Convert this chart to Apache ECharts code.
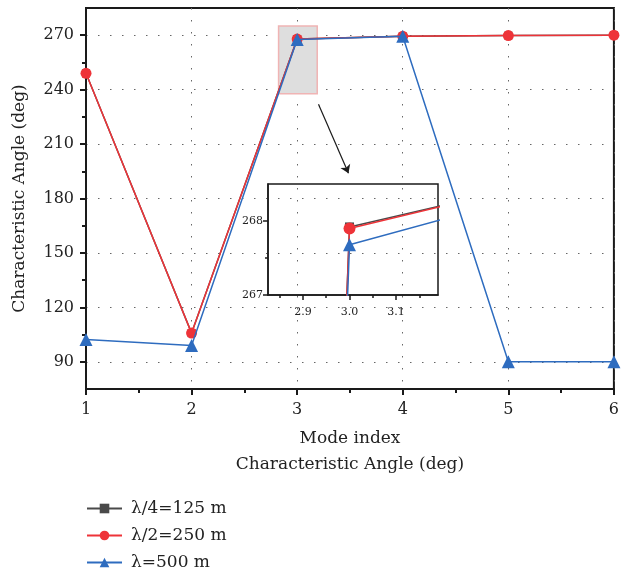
<!DOCTYPE html>
<html style="height: 100%">
<head>
<meta charset="utf-8">
<script src="https://cdn.jsdelivr.net/npm/echarts@6.0.0/dist/echarts.min.js"></script>
</head>
<body style="height: 100%; margin: 0; background: #fff">
<div id="container" style="width: 622px; height: 573px;"></div>
<script type="text/javascript">
// values
var modeIndex = [1, 2, 3, 4, 5, 6];
var quarterLambda = [249, 105.8, 267.92, 269.38, 269.8, 270];
var halfLambda = [249, 105.8, 267.9, 269.4, 269.8, 270];
var fullLambda = [102.3, 99, 267.68, 269.4, 90, 90];
var seriesNames = ['λ/4=125 m', 'λ/2=250 m', 'λ=500 m'];

var yTicks = [90, 120, 150, 180, 210, 240, 270];
var yMinorTicks = [105, 135, 165, 195, 225, 255];
var insetXTicks = [2.9, 3.0, 3.1];
var insetXMinor = [2.85, 2.95, 3.05, 3.15];
var insetYTicks = [267, 268];
var insetYMinor = [267.5];

var colors = ['#4a4a4a', '#ee3338', '#2e6cbf'];
var symbols = ['rect', 'circle', 'triangle'];
var font = 'DejaVu Serif';

function pairs(xs, ys) {
    var out = [];
    for (var i = 0; i < xs.length; i++) out.push([xs[i], ys[i]]);
    return out;
}

var dom = document.getElementById('container');
var myChart = echarts.init(dom);
var dotted = { color: '#666', width: 1, type: [1.5, 10.5] };
var black = '#1a1a1a';

var allData = [quarterLambda, halfLambda, fullLambda];
var mainSizes = [8, 11, 13];
var insetSizes = [9, 12, 13];
var series = [];
for (var s = 0; s < 3; s++) {
    series.push({
        name: seriesNames[s],
        type: 'line',
        xAxisIndex: 0,
        yAxisIndex: 0,
        data: pairs(modeIndex, allData[s]),
        symbol: symbols[s],
        symbolSize: mainSizes[s],
        itemStyle: { color: colors[s] },
        lineStyle: { color: colors[s], width: 1.5 },
        z: 3 + s
    });
}
for (var s = 0; s < 3; s++) {
    series.push({
        name: seriesNames[s],
        type: 'line',
        xAxisIndex: 1,
        yAxisIndex: 2,
        data: pairs(modeIndex, allData[s]),
        symbol: symbols[s],
        symbolSize: insetSizes[s],
        itemStyle: { color: colors[s] },
        lineStyle: { color: colors[s], width: 1.5 },
        clip: true,
        z: 3 + s
    });
}
// zoom box and arrow
series[0].markArea = {
    silent: true,
    itemStyle: { color: '#dedede', borderColor: '#f0b4b4', borderWidth: 1.5 },
    data: [[{ coord: [2.824, 237.8] }, { coord: [3.19, 275.1] }]]
};
series[0].markLine = {
    silent: true,
    symbol: ['none', 'arrow'],
    symbolSize: 8,
    label: { show: false },
    lineStyle: { color: black, width: 1.2, type: 'solid' },
    data: [[{ coord: [3.202, 231.9] }, { coord: [3.486, 193.9] }]]
};

var option = {
    animation: false,
    textStyle: { fontFamily: font },
    legend: {
        data: seriesNames,
        orient: 'vertical',
        left: 86,
        top: 499,
        height: 90,
        padding: 0,
        itemWidth: 35,
        itemHeight: 12,
        itemGap: 8,
        textStyle: { fontFamily: font, fontSize: 17, lineHeight: 19, color: '#222', padding: [0, 0, 0, 4] }
    },
    grid: [
        { left: 86, right: 7, top: 8, bottom: 184, show: true, borderColor: black, borderWidth: 2, backgroundColor: 'transparent' },
        { left: 268, top: 184, width: 170, height: 111, show: true, borderColor: black, borderWidth: 1.5, backgroundColor: 'transparent' }
    ],
    xAxis: [
        {
            type: 'value', gridIndex: 0, min: 1, max: 6, interval: 1,
            name: 'Mode index\nCharacteristic Angle (deg)',
            nameLocation: 'middle', nameGap: 37,
            nameTextStyle: { fontFamily: font, fontSize: 17, color: '#222', lineHeight: 26, verticalAlign: 'top' },
            axisLine: { lineStyle: { color: black, width: 2 } },
            axisTick: { length: 6, lineStyle: { width: 2, color: black } },
            minorTick: { show: true, splitNumber: 2, length: 4, lineStyle: { width: 2, color: black } },
            axisLabel: { fontFamily: font, fontSize: 16, color: '#222', margin: 13 },
            splitLine: { show: true, lineStyle: dotted }
        },
        {
            type: 'value', gridIndex: 1, min: 2.825, max: 3.19, position: 'bottom',
            axisLine: { lineStyle: { color: black, width: 1.5 } },
            axisTick: { customValues: insetXTicks, length: 5, lineStyle: { width: 1.5, color: black } },
            axisLabel: { customValues: insetXTicks, fontFamily: font, fontSize: 11, color: '#222', margin: 12,
                formatter: function (v) { return v.toFixed(1); } },
            splitLine: { show: false }
        },
        {
            type: 'value', gridIndex: 1, min: 2.825, max: 3.19, position: 'bottom',
            axisLine: { show: false },
            axisTick: { customValues: insetXMinor, length: 3, lineStyle: { width: 1.5, color: black } },
            axisLabel: { show: false },
            splitLine: { show: false }
        }
    ],
    yAxis: [
        {
            type: 'value', gridIndex: 0, min: 75, max: 285, position: 'left',
            name: 'Characteristic Angle (deg)',
            nameLocation: 'middle', nameGap: 58,
            nameTextStyle: { fontFamily: font, fontSize: 17, color: '#222' },
            axisLine: { show: true, lineStyle: { color: black, width: 2 } },
            axisTick: { show: true, customValues: yTicks, length: 6, lineStyle: { width: 2, color: black } },
            axisLabel: { customValues: yTicks, fontFamily: font, fontSize: 16, color: '#222', margin: 12 },
            splitLine: { show: true, lineStyle: dotted }
        },
        {
            type: 'value', gridIndex: 0, min: 75, max: 285, position: 'left',
            axisLine: { show: false },
            axisTick: { show: true, customValues: yMinorTicks, length: 4, lineStyle: { width: 2, color: black } },
            axisLabel: { show: false },
            splitLine: { show: false }
        },
        {
            type: 'value', gridIndex: 1, min: 267, max: 268.5, position: 'left',
            axisLine: { show: true, lineStyle: { color: black, width: 1.5 } },
            axisTick: { show: true, customValues: insetYTicks, length: 5, lineStyle: { width: 1.5, color: black } },
            axisLabel: { customValues: insetYTicks, fontFamily: font, fontSize: 11, color: '#222', margin: 5 },
            splitLine: { show: false }
        },
        {
            type: 'value', gridIndex: 1, min: 267, max: 268.5, position: 'left',
            axisLine: { show: false },
            axisTick: { show: true, customValues: insetYMinor, length: 3, lineStyle: { width: 1.5, color: black } },
            axisLabel: { show: false },
            splitLine: { show: false }
        }
    ],
    series: series
};

myChart.setOption(option, true);
</script>
</body>
</html>
